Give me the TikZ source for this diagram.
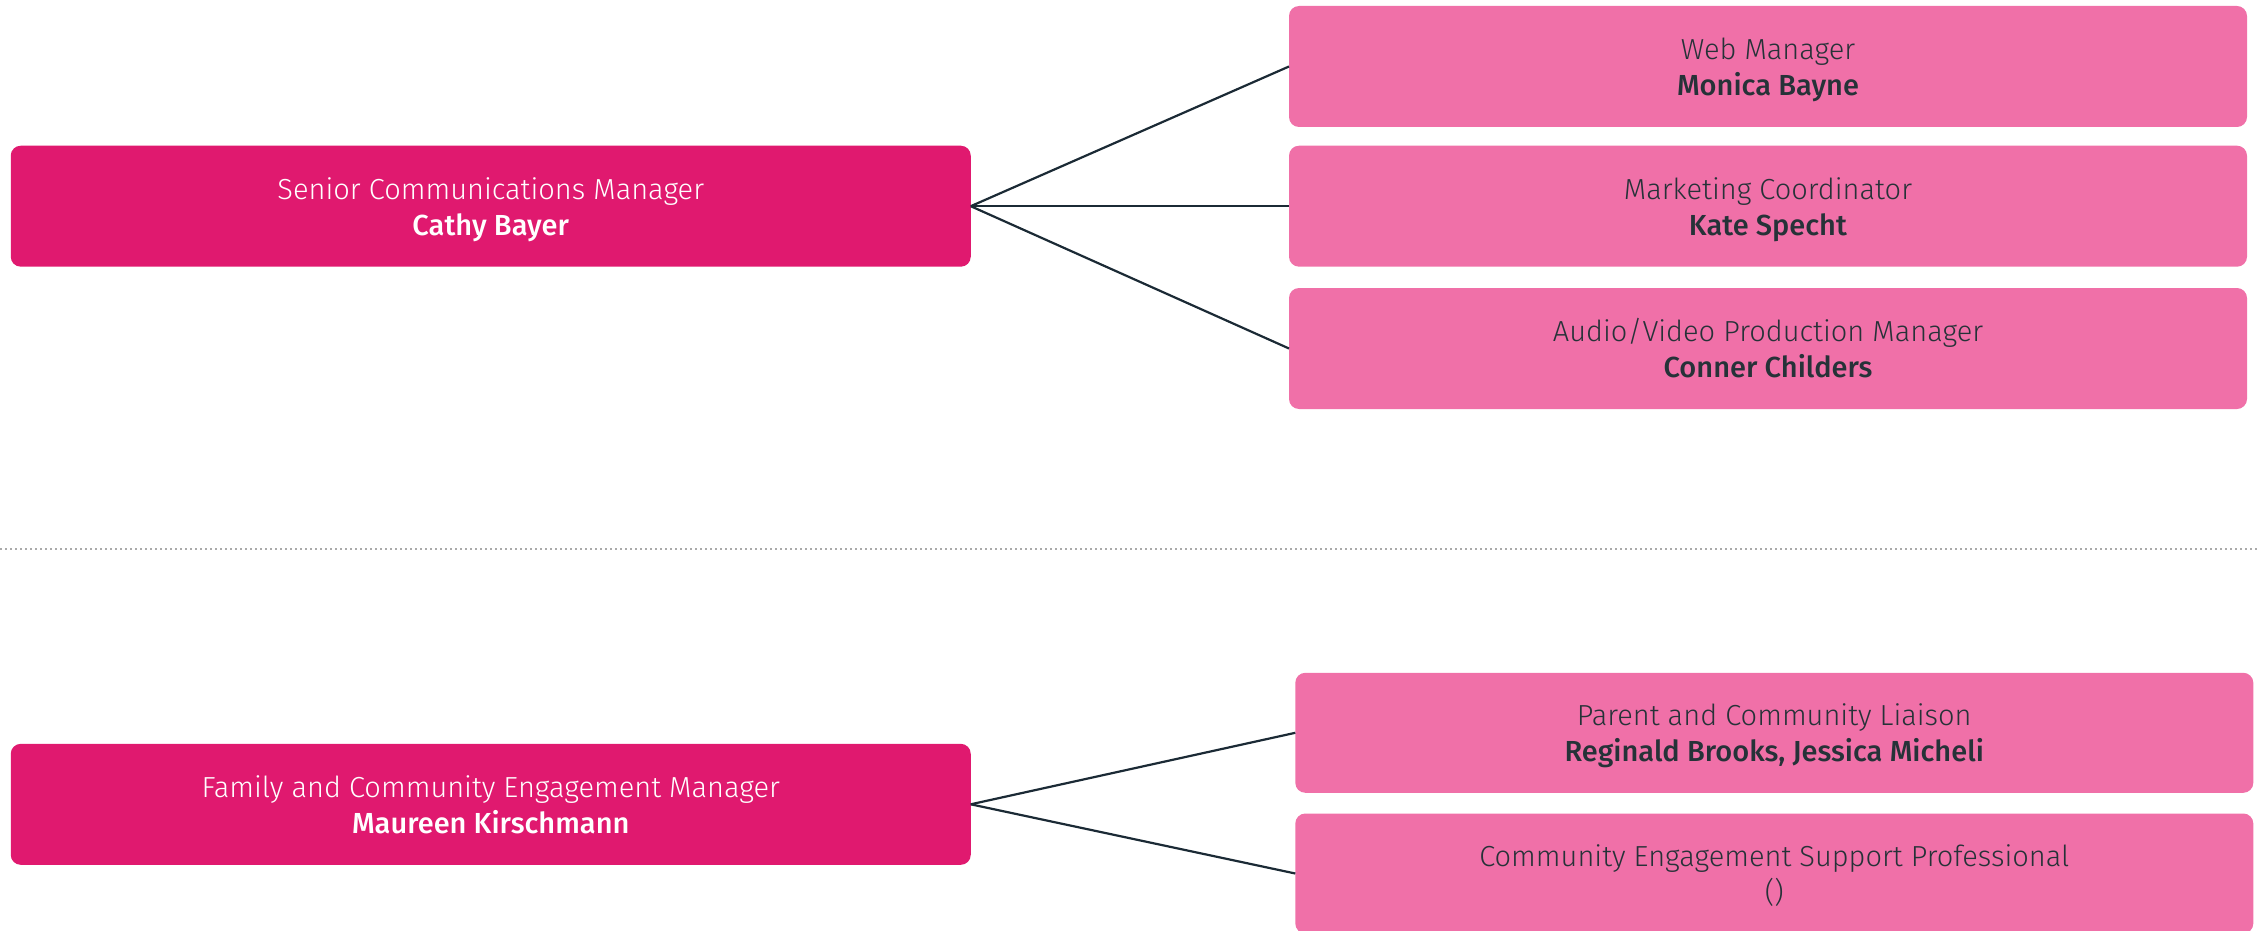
\documentclass[tikz,border=0pt]{standalone}
\usepackage{fontspec}
\setmainfont{Fira Sans Light}[BoldFont={Fira Sans Medium}]
\definecolor{darkpink}{HTML}{E0196F}
\definecolor{lightpink}{HTML}{F070A8}
\definecolor{inkdark}{HTML}{263238}
\definecolor{linedark}{HTML}{1B2A35}
\definecolor{sepgray}{HTML}{AAAAAA}
\begin{document}
\begin{tikzpicture}[x=1pt,y=-1pt,
  box/.style={rectangle, rounded corners=10pt, inner sep=0pt, outer sep=0pt,
    align=center, font=\fontsize{29}{36}\selectfont,
    text height=66pt, text depth=8pt},
  darkbox/.style={box, fill=darkpink, text=white, minimum width=960pt, minimum height=121pt},
  lightbox/.style={box, fill=lightpink, text=inkdark, minimum width=958pt, minimum height=121pt},
  conn/.style={draw=linedark, line width=2.2pt},
  sep/.style={draw=sepgray, line width=2pt, dash pattern=on 2.3pt off 2.7pt}]
\useasboundingbox (0,0) rectangle (2260,931);
\begin{scope}
\clip (0,0) rectangle (2260,931);
\node[darkbox] (L1) at (490.75,206.2) {Senior Communications Manager\\\textbf{Cathy Bayer}};
\node[lightbox] (R1) at (1768,66.5) {Web Manager\\\textbf{Monica Bayne}};
\node[lightbox] (R2) at (1768,206.2) {Marketing Coordinator\\\textbf{Kate Specht}};
\node[lightbox] (R3) at (1768,348.5) {Audio/Video Production Manager\\\textbf{Conner Childers}};
\node[darkbox] (L2) at (490.75,804.3) {Family and Community Engagement Manager\\\textbf{Maureen Kirschmann}};
\node[lightbox, minimum height=120pt] (R4) at (1774.3,732.8) {Parent and Community Liaison\\\textbf{Reginald Brooks, Jessica Micheli}};
\node[lightbox, minimum height=120pt] (R5) at (1774.3,873.5) {Community Engagement Support Professional\\()};
\coordinate (S1) at (0,549);
\coordinate (S2) at (2260,549);
\draw[sep] (S1) -- (S2);
\draw[conn] (L1.east) -- (R1.west);
\draw[conn] (L1.east) -- (R2.west);
\draw[conn] (L1.east) -- (R3.west);
\draw[conn] (L2.east) -- (R4.west);
\draw[conn] (L2.east) -- (R5.west);
\end{scope}
\end{tikzpicture}
\end{document}
